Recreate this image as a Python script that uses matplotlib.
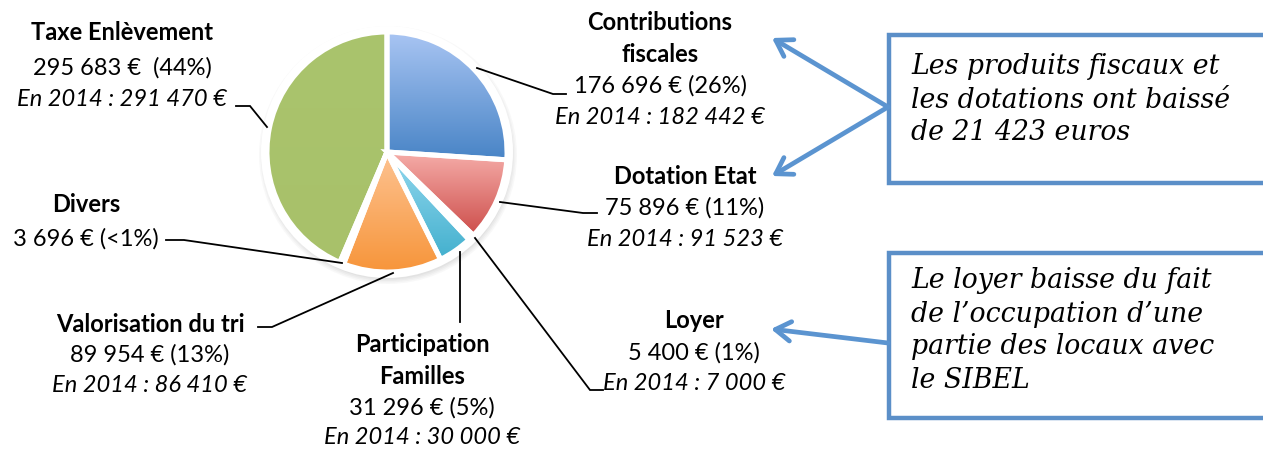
import matplotlib
matplotlib.use("Agg")
import matplotlib.pyplot as plt
import numpy as np
from matplotlib.patches import Circle, Rectangle, FancyArrowPatch, Wedge
from matplotlib.colors import LinearSegmentedColormap

# ---- data ----
categories = ["Contributions fiscales", "Dotation Etat", "Loyer", "Participation Familles",
              "Valorisation du tri", "Divers", "Taxe Enlèvement"]
values_2015 = [176696, 75896, 5400, 31296, 89954, 3696, 295683]
values_2014 = [182442, 91523, 7000, 30000, 86410, None, 291470]
pct_labels = ["26%", "11%", "1%", "5%", "13%", "<1%", "44%"]
value_labels = ["176 696 €", "75 896 €", "5 400 €", "31 296 €", "89 954 €", "3 696 €", "295 683 €"]
label_2014 = ["En 2014 : 182 442 €", "En 2014 : 91 523 €", "En 2014 : 7 000 €",
              "En 2014 : 30 000 €", "En 2014 : 86 410 €", None, "En 2014 : 291 470 €"]
note1 = ["Les produits fiscaux et", "les dotations ont baissé", "de 21 423 euros"]
note2 = ["Le loyer baisse du fait", "de l\u2019occupation d\u2019une", "partie des locaux avec", "le SIBEL"]

grad_top = ["#a9c5f3", "#f6aeaa", "#ffffff", "#95d9ef", "#fdc392", "#ffffff", "#aac46d"]
grad_bot = ["#4884c6", "#cd4e4b", "#ffffff", "#43b0ce", "#f7953a", "#ffffff", "#a8c16a"]

W, H = 1263, 450
fig = plt.figure(figsize=(W / 100, H / 100), dpi=100)
ax = fig.add_axes([0, 0, 1, 1])

def Y(py):
    return H - py

cx, cy, R = 387, Y(152), 120

wedges, _ = ax.pie(values_2015, startangle=90, counterclock=False, center=(cx, cy), radius=R,
                   colors=grad_bot, wedgeprops=dict(edgecolor="white", linewidth=3.6),
                   frame=True)
ax.set_xlim(0, W)
ax.set_ylim(0, H)
ax.set_aspect("equal")
ax.axis("off")

# shadow + white ring
for i, a in enumerate([0.05, 0.05, 0.06, 0.07]):
    ax.add_patch(Circle((cx + 1, cy - 3), R + 9 - i * 1.5, color="#808080", alpha=a, lw=0, zorder=1))
ax.add_patch(Circle((cx, cy), R + 6, color="white", lw=0, zorder=2))

for w, ct, cb in zip(wedges, grad_top, grad_bot):
    w.set_zorder(3)
    th = np.radians(np.linspace(w.theta1, w.theta2, 100))
    ys = np.concatenate([[cy], cy + R * np.sin(th)])
    xs = np.concatenate([[cx], cx + R * np.cos(th)])
    cmap = LinearSegmentedColormap.from_list("g", [cb, ct])
    grad = np.linspace(0, 1, 256).reshape(-1, 1)
    im = ax.imshow(grad, cmap=cmap, origin="lower", aspect="auto",
                   extent=[xs.min(), xs.max(), ys.min(), ys.max()], zorder=3.5)
    im.set_clip_path(w)
    ax.add_patch(Wedge(w.center, w.r, w.theta1, w.theta2,
                       fill=False, edgecolor="white", lw=3.6, zorder=4))
ax.set_xlim(0, W)
ax.set_ylim(0, H)
ax.set_aspect("equal")

font = "Lato"
fs = 17
tb = dict(fontfamily=font, fontsize=fs, ha="center", va="center", color="black", zorder=6)

def block(x, ys, lines, styles):
    for y, t, s in zip(ys, lines, styles):
        kw = dict(tb)
        if s == "b":
            kw["fontweight"] = "bold"
        elif s == "i":
            kw["fontstyle"] = "italic"
        ax.text(x, Y(y), t, **kw)

# labels
block(122, [33, 68, 99], ["Taxe Enlèvement", f"{value_labels[6]}  ({pct_labels[6]})", label_2014[6]], "bni")
block(660, [22, 54, 86, 117], ["Contributions", "fiscales", f"{value_labels[0]} ({pct_labels[0]})", label_2014[0]], "bbni")
block(685, [176, 208, 239], ["Dotation Etat", f"{value_labels[1]} ({pct_labels[1]})", label_2014[1]], "bni")
block(694, [321, 353, 384], ["Loyer", f"{value_labels[2]} ({pct_labels[2]})", label_2014[2]], "bni")
block(422, [344, 376, 408, 437], ["Participation", "Familles", f"{value_labels[3]} ({pct_labels[3]})", label_2014[3]], "bbni")
block(150, [324, 355, 386], ["Valorisation du tri", f"{value_labels[4]} ({pct_labels[4]})", label_2014[4]], "bni")
block(86, [205, 239], ["Divers", f"{value_labels[5]} ({pct_labels[5]})"], "bn")

# leader lines
leaders = [
    [(236, 106), (250, 106), (267, 127)],
    [(477, 68), (553, 94), (566, 94)],
    [(500, 202), (583, 213), (597, 213)],
    [(475, 238), (590, 390), (603, 390)],
    [(460, 252), (460, 322)],
    [(166, 240), (184, 240), (342, 263)],
    [(258, 327), (272, 327), (393, 273)],
]
for pts in leaders:
    xs = [p[0] for p in pts]
    ys = [Y(p[1]) for p in pts]
    ax.plot(xs, ys, color="black", lw=1.3, zorder=5, solid_joinstyle="miter")

# note boxes
bc = "#5b8fc8"
ax.add_patch(Rectangle((889, Y(183)), 400, 148, fill=True, facecolor="white", edgecolor=bc, lw=3.2, zorder=5))
ax.add_patch(Rectangle((889, Y(418)), 400, 165, fill=True, facecolor="white", edgecolor=bc, lw=3.2, zorder=5))
serif = dict(fontfamily="DejaVu Serif", fontstyle="italic", fontsize=19.3, ha="left", va="center",
             color="black", zorder=6)
for i, t in enumerate(note1):
    ax.text(911, Y(67 + 33 * i), t, **serif)
for i, t in enumerate(note2):
    ax.text(911, Y(281 + 33 * i), t, **serif)

# arrows (open heads)
ac = "#5b94d0"
for (x0, y0, x1, y1) in [(888, 107, 772, 38), (888, 107, 772, 176), (888, 343, 771, 329)]:
    ax.add_patch(FancyArrowPatch((x0, Y(y0)), (x1, Y(y1)),
                                 arrowstyle="->,head_length=11,head_width=7",
                                 color=ac, lw=3.4, mutation_scale=1, shrinkA=0, shrinkB=0,
                                 capstyle="round", joinstyle="round", zorder=6))

fig.savefig("out.png", dpi=100)
